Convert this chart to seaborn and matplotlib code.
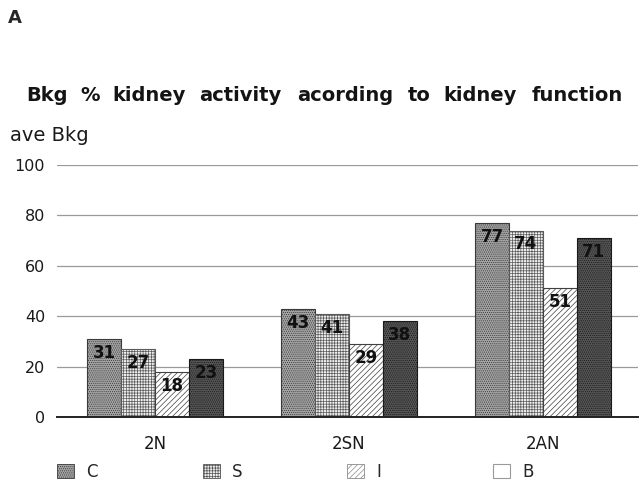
import matplotlib
matplotlib.use('Agg')
import matplotlib.pyplot as plt
import seaborn as sns
import pandas as pd
from matplotlib.patches import Patch

groups = ['2N', '2SN', '2AN']
series = ['C', 'S', 'I', 'B']
C_vals = [31, 43, 77]
S_vals = [27, 41, 74]
I_vals = [18, 29, 51]
B_vals = [23, 38, 71]
yticks = [0, 20, 40, 60, 80, 100]
title_words = ['Bkg', '%', 'kidney', 'activity', 'acording', 'to', 'kidney', 'function']
title_x = [26, 80, 112, 199, 297, 408, 443, 532]

rows = []
for s, vals in zip(series, [C_vals, S_vals, I_vals, B_vals]):
    for g, v in zip(groups, vals):
        rows.append({'group': g, 'series': s, 'value': v})
df = pd.DataFrame(rows)

sns.set_style('white')
plt.rcParams['font.family'] = ['DejaVu Sans']
plt.rcParams['hatch.linewidth'] = 0.5

W, H = 639, 483
fig = plt.figure(figsize=(W / 100, H / 100), dpi=100)
ax = fig.add_axes([57 / W, 1 - 417 / H, (638 - 57) / W, (417 - 165) / H])

styles = {
    'C': dict(fc='#a4a4a4', hatch='........', ec='#3a3a3a'),
    'S': dict(fc='#eeeeee', hatch='++++++', ec='#5a5a5a'),
    'I': dict(fc='#ffffff', hatch='//////', ec='#404040'),
    'B': dict(fc='#555555', hatch='........', ec='#1a1a1a'),
}
palette = {s: styles[s]['fc'] for s in series}
sns.barplot(data=df, x='group', y='value', hue='series', hue_order=series,
            order=groups, palette=palette, width=0.7, ax=ax, legend=False,
            saturation=1, edgecolor='#333333', linewidth=0.8)

all_vals = {'C': C_vals, 'S': S_vals, 'I': I_vals, 'B': B_vals}
for s, cont in zip(series, ax.containers):
    for p in cont:
        p.set_hatch(styles[s]['hatch'])
        p.set_edgecolor(styles[s]['ec'])
        p.set_zorder(3)
    ax.bar_label(cont, labels=[str(v) for v in all_vals[s]], padding=-16.5,
                 fontsize=12, fontweight='bold', color='#111111', zorder=5)

ax.set_ylim(0, 100)
ax.set_xlim(-0.505, 2.49)
ax.set_yticks(yticks)
ax.set_yticklabels([str(t) for t in yticks])
ax.yaxis.grid(True, color='#9a9a9a', lw=0.9)
ax.set_axisbelow(True)
for side in ['top', 'right', 'left']:
    ax.spines[side].set_visible(False)
ax.spines['bottom'].set_color('#222222')
ax.spines['bottom'].set_linewidth(1.4)
ax.spines['bottom'].set_zorder(4)
ax.tick_params(axis='y', pad=8.6, length=0, labelsize=11.5, labelcolor='#1a1a1a')
ax.tick_params(axis='x', pad=13, length=0, labelsize=12, labelcolor='#1a1a1a')
ax.set_xlabel('')
ax.set_ylabel('')

fig.text(8 / W, 1 - 23 / H, 'A', fontsize=13, fontweight='bold', va='baseline', ha='left')
for w, x in zip(title_words, title_x):
    fig.text(x / W, 1 - 101 / H, w, fontsize=14, fontweight='bold',
             va='baseline', ha='left', color='#141414')
fig.text(10 / W, 1 - 141 / H, 'ave Bkg', fontsize=14, va='baseline', ha='left', color='#1a1a1a')

handles = [
    Patch(facecolor=styles['C']['fc'], hatch='........', edgecolor='#3a3a3a', lw=0.6),
    Patch(facecolor='#eeeeee', hatch='++++++', edgecolor='#555555', lw=0.6),
    Patch(facecolor='#ffffff', hatch='//////', edgecolor='#8a8a8a', lw=0.6),
    Patch(facecolor='#ffffff', edgecolor='#9a9a9a', lw=0.8),
]
legend_x = [57, 203, 347, 493]
for h, lab, x in zip(handles, series, legend_x):
    leg = fig.legend([h], [lab], loc='center left', bbox_to_anchor=(x / W, 1 - 472 / H),
                     frameon=False, fontsize=12, handlelength=1.0, handleheight=0.95,
                     handletextpad=0.75, borderpad=0, borderaxespad=0)

fig.savefig('out.png', dpi=100, facecolor='white')
